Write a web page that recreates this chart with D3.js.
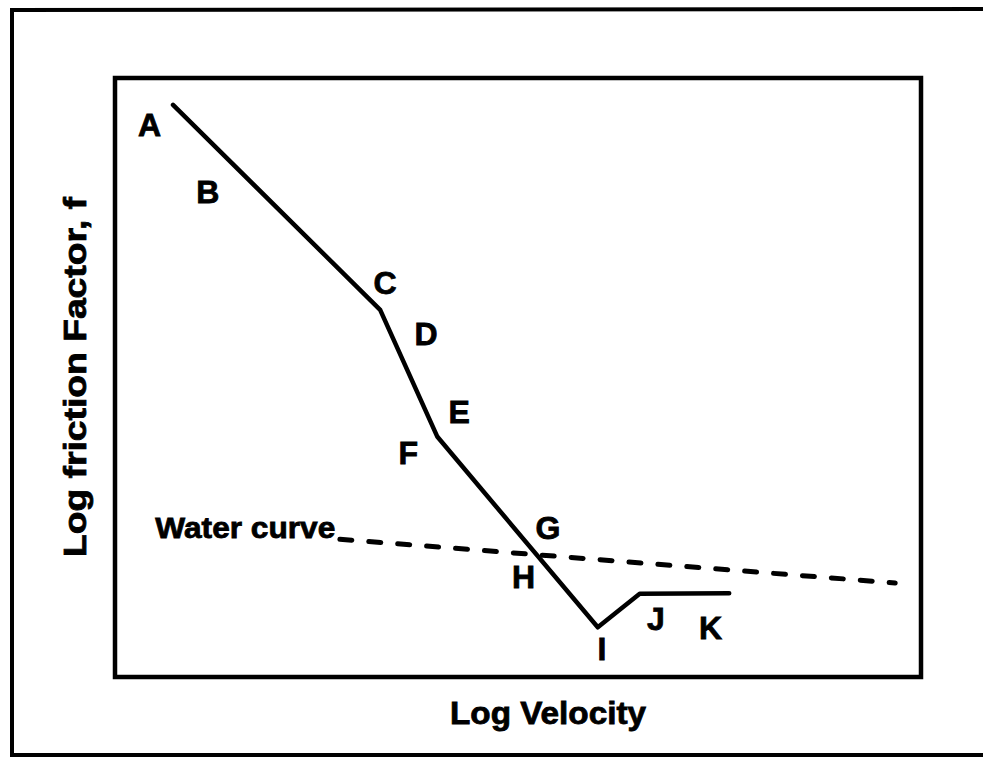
<!DOCTYPE html>
<html>
<head>
<meta charset="utf-8">
<script src="https://cdn.jsdelivr.net/npm/d3@7"></script>
<style>
  html, body { margin: 0; padding: 0; background: #fff; overflow: hidden; }
  svg { display: block; }
  text { font-family: "Liberation Sans", Arial, sans-serif; font-weight: bold; fill: #000;
         stroke: #000; stroke-width: 0.8px; }
</style>
</head>
<body>
<svg id="chart" width="983" height="758"></svg>
<script>
// Friction-factor curve (log velocity vs log friction factor), unitless log axes 0..10
const curveX = [0.72, 3.29, 4.00, 5.99, 6.51, 7.62];
const curveY = [9.55, 6.13, 4.01, 0.83, 1.39, 1.40];

// Reference line for plain water
const waterX = [2.79, 9.68];
const waterY = [2.30, 1.57];

// Region markers along the curve
const markerNames = ["A", "B", "C", "D", "E", "F", "G", "H", "I", "J", "K"];
const markerX = [0.43, 1.15, 3.35, 3.86, 4.27, 3.64, 5.37, 5.07, 6.04, 6.71, 7.39];
const markerY = [9.22, 8.10, 6.58, 5.74, 4.44, 3.74, 2.49, 1.67, 0.47, 0.97, 0.82];

const waterLabel = "Water curve";
const waterLabelX = 0.50, waterLabelY = 2.32;
const xTitle = "Log Velocity";
const yTitle = "Log friction Factor, f";

const svg = d3.select("#chart");
const box = { left: 115, top: 78, right: 921, bottom: 677 };

const x = d3.scaleLinear().domain([0, 10]).range([box.left, box.right]);
const y = d3.scaleLinear().domain([0, 10]).range([box.bottom, box.top]);

// Outer frame (open on the right, running off the page)
svg.append("path")
  .attr("d", "M995,9 L12,10 L12,755 L995,755")
  .attr("fill", "none").attr("stroke", "#000").attr("stroke-width", 4);

// Plot box
svg.append("rect")
  .attr("x", box.left).attr("y", box.top)
  .attr("width", box.right - box.left).attr("height", box.bottom - box.top)
  .attr("fill", "none").attr("stroke", "#000").attr("stroke-width", 4.5);

const line = d3.line().x(d => x(d[0])).y(d => y(d[1]));

// Water curve (dashed)
svg.append("path")
  .datum(d3.zip(waterX, waterY))
  .attr("d", line)
  .attr("fill", "none").attr("stroke", "#000").attr("stroke-width", 5)
  .attr("stroke-linecap", "round")
  .attr("stroke-dasharray", "12,17");

// Friction-factor curve
svg.append("path")
  .datum(d3.zip(curveX, curveY))
  .attr("d", line)
  .attr("fill", "none").attr("stroke", "#000").attr("stroke-width", 4.5)
  .attr("stroke-linejoin", "round").attr("stroke-linecap", "round");

// Markers
svg.selectAll("text.marker")
  .data(markerNames)
  .join("text")
  .attr("class", "marker")
  .attr("x", (d, i) => x(markerX[i]))
  .attr("y", (d, i) => y(markerY[i]))
  .attr("text-anchor", "middle")
  .attr("dy", "0.36em")
  .style("font-size", "32px")
  .text(d => d);

svg.append("text")
  .attr("x", x(waterLabelX)).attr("y", y(waterLabelY))
  .style("font-size", "30px")
  .attr("textLength", 180).attr("lengthAdjust", "spacingAndGlyphs")
  .text(waterLabel);

// Axis titles
svg.append("text")
  .attr("x", 450).attr("y", 724)
  .style("font-size", "31px")
  .attr("textLength", 196).attr("lengthAdjust", "spacingAndGlyphs")
  .text(xTitle);

svg.append("text")
  .attr("transform", "translate(86,557) rotate(-90)")
  .style("font-size", "32px")
  .attr("textLength", 360).attr("lengthAdjust", "spacingAndGlyphs")
  .text(yTitle);
</script>
</body>
</html>
